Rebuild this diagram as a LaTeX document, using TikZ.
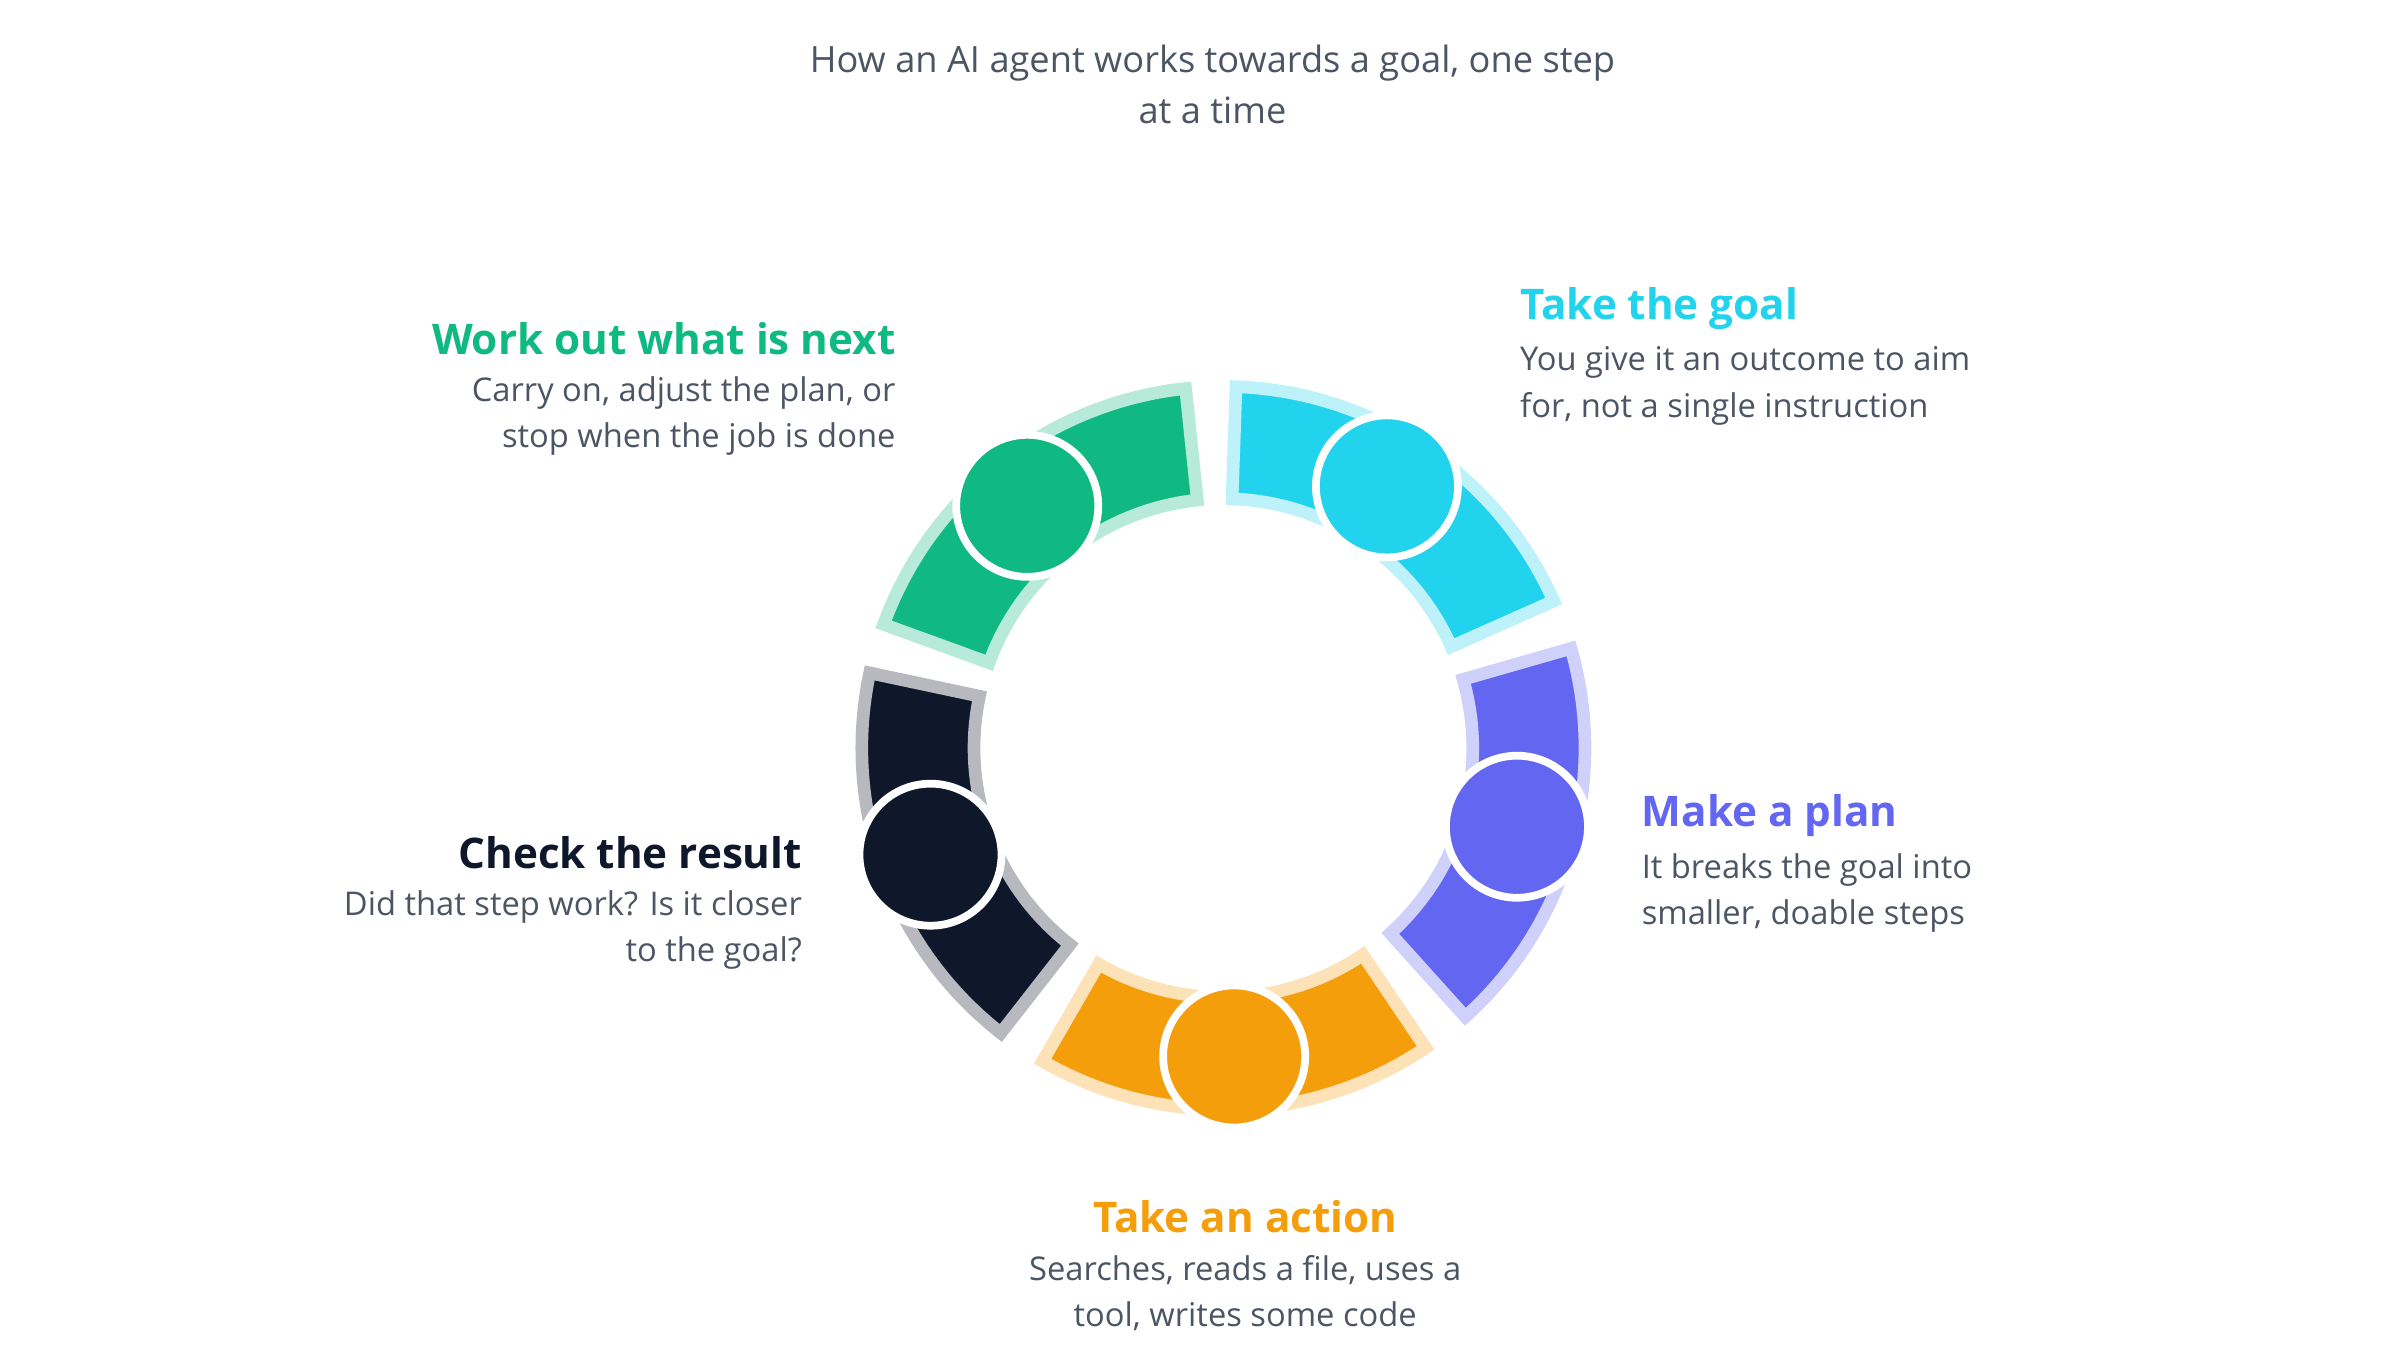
\documentclass[tikz,border=0pt]{standalone}
\usepackage{fontspec}
\setmainfont{Open Sans}
\usetikzlibrary{positioning}
\definecolor{goalc}{HTML}{22D3EE}
\definecolor{planc}{HTML}{6366F1}
\definecolor{actc}{HTML}{F59E0B}
\definecolor{checkc}{HTML}{0F172A}
\definecolor{nextc}{HTML}{10B981}
\definecolor{txtc}{HTML}{4B5563}
\tikzset{
  head/.style={font=\fontsize{12}{15}\selectfont\bfseries, inner sep=0pt},
  body/.style={font=\fontsize{9.3}{13.2}\selectfont, text=txtc, inner sep=0pt},
  dot/.style={circle, minimum size=1.42cm, draw=white, line width=2.2pt, inner sep=0pt}
}
\newcommand{\segment}[2]{% centre angle, colour
  \fill[#2, draw=#2!30, line width=3.6pt, line join=miter]
    (#1-32:160) arc (#1-32:#1+32:160) -- (#1+32:232) arc (#1+32:#1-32:232) -- cycle;
}
\begin{document}
\begin{tikzpicture}[x=0.01558cm, y=0.01558cm]
  \useasboundingbox (0,0) rectangle (1540,-866);
  % title
  \node[body, font=\fontsize{10.3}{14.5}\selectfont, align=center] (title) at (778,-54)
    {How an AI agent works towards a goal, one step\\at a time};

  % ring
  \begin{scope}[shift={(785,-480)}]
    \segment{56}{goalc}
    \segment{-16}{planc}
    \segment{-88}{actc}
    \segment{200}{checkc}
    \segment{128}{nextc}
    \node[dot, fill=goalc] (goal) at (58:198) {};
    \node[dot, fill=planc] (plan) at (-15:195) {};
    \node[dot, fill=actc] (act) at (-88:198) {};
    \node[dot, fill=checkc] (check) at (200:200) {};
    \node[dot, fill=nextc] (next) at (129:200) {};
  \end{scope}

  % labels
  \node[head, text=goalc, anchor=west] (goalh) at (975,-198) {Take the goal};
  \node[body, anchor=north west, align=left] (goalb) at (975,-222)
    {You give it an outcome to aim\\for, not a single instruction};
  \node[head, text=planc, anchor=west] (planh) at (1053,-523) {Make a plan};
  \node[body, anchor=north west, align=left] (planb) at (1053,-547)
    {It breaks the goal into\\smaller, doable steps};
  \node[head, text=actc] (acth) at (799,-781) {Take an action};
  \node[body, anchor=north, align=center] (actb) at (799,-805)
    {Searches, reads a file, uses a\\tool, writes some code};
  \node[head, text=checkc, anchor=east] (checkh) at (515,-547) {Check the result};
  \node[body, anchor=north east, align=right] (checkb) at (515,-571)
    {Did that step work? Is it closer\\to the goal?};
  \node[head, text=nextc, anchor=east] (nexth) at (575,-217) {Work out what is next};
  \node[body, anchor=north east, align=right] (nextb) at (575,-241)
    {Carry on, adjust the plan, or\\stop when the job is done};
\end{tikzpicture}
\end{document}
